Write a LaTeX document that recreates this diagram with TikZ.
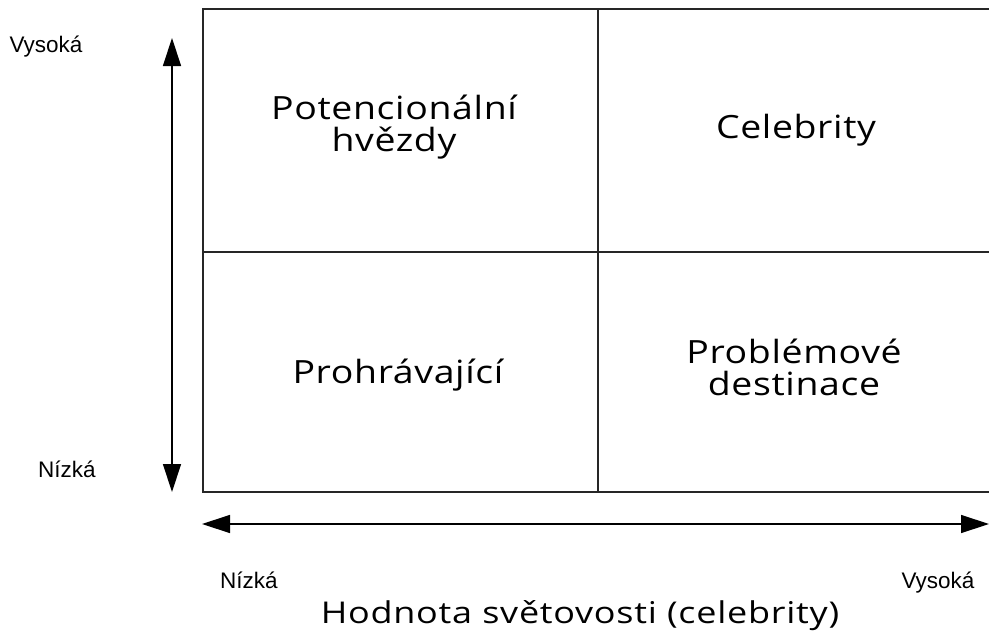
\documentclass[tikz,border=0pt]{standalone}
\usepackage{fontspec}
\setmainfont{Open Sans}
\newfontfamily\cellfont[FakeStretch=1.17,LetterSpace=2]{Open Sans}
\newfontfamily\titlefont[FakeStretch=1.2,LetterSpace=2.5]{Open Sans}
\newfontfamily\arialfont{Liberation Sans}
\usetikzlibrary{arrows.meta}
\begin{document}
\begin{tikzpicture}[x=1pt,y=-1pt,
  gridline/.style={line width=1.4pt,draw=black!85},
  axisarrow/.style={line width=1.3pt,{Triangle[length=28pt,width=18pt]}-{Triangle[length=28pt,width=18pt]}},
  celltext/.style={font=\cellfont\fontsize{32}{32}\selectfont,align=center,inner sep=0pt},
  titletext/.style={font=\titlefont\fontsize{30}{31}\selectfont,inner sep=0pt},
  smalllabel/.style={font=\arialfont\fontsize{22.5}{24}\selectfont,inner sep=0pt,anchor=base}]
\useasboundingbox (0,0) rectangle (989,635);
% grid corners
\coordinate (tl) at (203,9);
\coordinate (tr) at (992,9);
\coordinate (bl) at (203,492);
\coordinate (br) at (992,492);
\coordinate (mt) at (598,9);
\coordinate (mb) at (598,492);
\coordinate (ml) at (203,252);
\coordinate (mr) at (992,252);
\draw[gridline] (tr) -- (tl) -- (bl) -- (br);
\draw[gridline] (mt) -- (mb);
\draw[gridline] (ml) -- (mr);
% axes
\coordinate (vt) at (172,38);
\coordinate (vb) at (172,492);
\coordinate (hl) at (202,524);
\coordinate (hr) at (989,524);
\draw[axisarrow] (vt) -- (vb);
\draw[axisarrow] (hl) -- (hr);
% cell texts
\node[celltext] (pot) at (394,127) {Potencionální\\hvězdy};
\node[celltext,anchor=base] (cel) at (796,138) {Celebrity};
\node[celltext,anchor=base] (pro) at (398,383) {Prohrávající};
\node[celltext] (prob) at (794,367) {Problémové\\destinace};
% labels
\node[smalllabel] (vys1) at (46,52) {Vysoká};
\node[smalllabel] (niz1) at (67,477) {Nízká};
\node[smalllabel] (niz2) at (249,588) {Nízká};
\node[smalllabel] (vys2) at (938,588) {Vysoká};
\node[titletext,anchor=base] (title) at (580,623) {Hodnota světovosti (celebrity)};
\end{tikzpicture}
\end{document}
